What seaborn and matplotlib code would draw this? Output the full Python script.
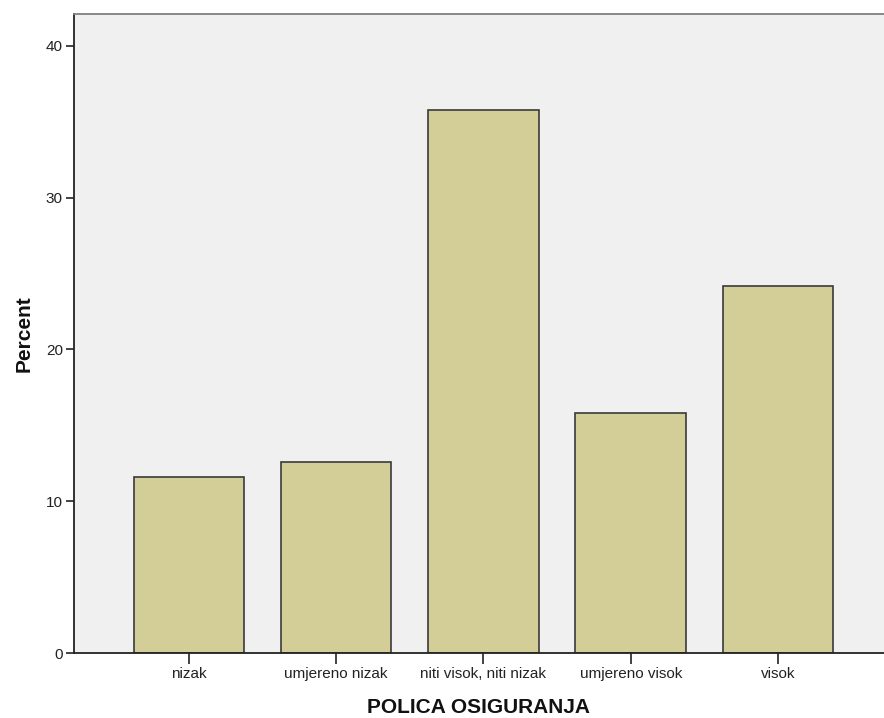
import pandas as pd
import seaborn as sns
import matplotlib.pyplot as plt

kategorije = ["nizak", "umjereno nizak", "niti visok, niti nizak", "umjereno visok", "visok"]
postotak = [11.6, 12.6, 35.8, 15.8, 24.2]
y_ticks = [0, 10, 20, 30, 40]

df = pd.DataFrame({"kategorija": kategorije, "postotak": postotak})

sns.set_style("white")
plt.rcParams["font.family"] = ["Liberation Sans", "DejaVu Sans"]

fig = plt.figure(figsize=(8.84, 7.18), dpi=100)
ax = fig.add_axes([0.0837, 0.0905, 0.9163, 0.89])
ax.set_facecolor("#f0f0f0")

sns.barplot(data=df, x="kategorija", y="postotak", color="#d3ce97", saturation=1,
            width=0.75, edgecolor="#3a3a3a", linewidth=1.2, ax=ax)

ax.set_xlim(-0.78, 4.72)
ax.set_ylim(0, 42.1)
ax.set_yticks(y_ticks)
ax.tick_params(axis="both", direction="out", width=1.2, color="#222222",
               labelsize=11, labelcolor="#222222", bottom=True, left=True)
ax.tick_params(axis="y", length=6, pad=2)
ax.tick_params(axis="x", length=8, pad=2)

for s in ["top", "left", "bottom"]:
    ax.spines[s].set_visible(True)
    ax.spines[s].set_linewidth(1.3)
ax.spines["left"].set_color("#222222")
ax.spines["bottom"].set_color("#222222")
ax.spines["top"].set_color("#808080")
ax.spines["right"].set_visible(False)

ax.set_xlabel("POLICA OSIGURANJA", fontsize=15, fontweight="bold", labelpad=12, color="#111111")
ax.set_ylabel("Percent", fontsize=15, fontweight="bold", labelpad=9, color="#111111")

fig.savefig("out.png", dpi=100)
